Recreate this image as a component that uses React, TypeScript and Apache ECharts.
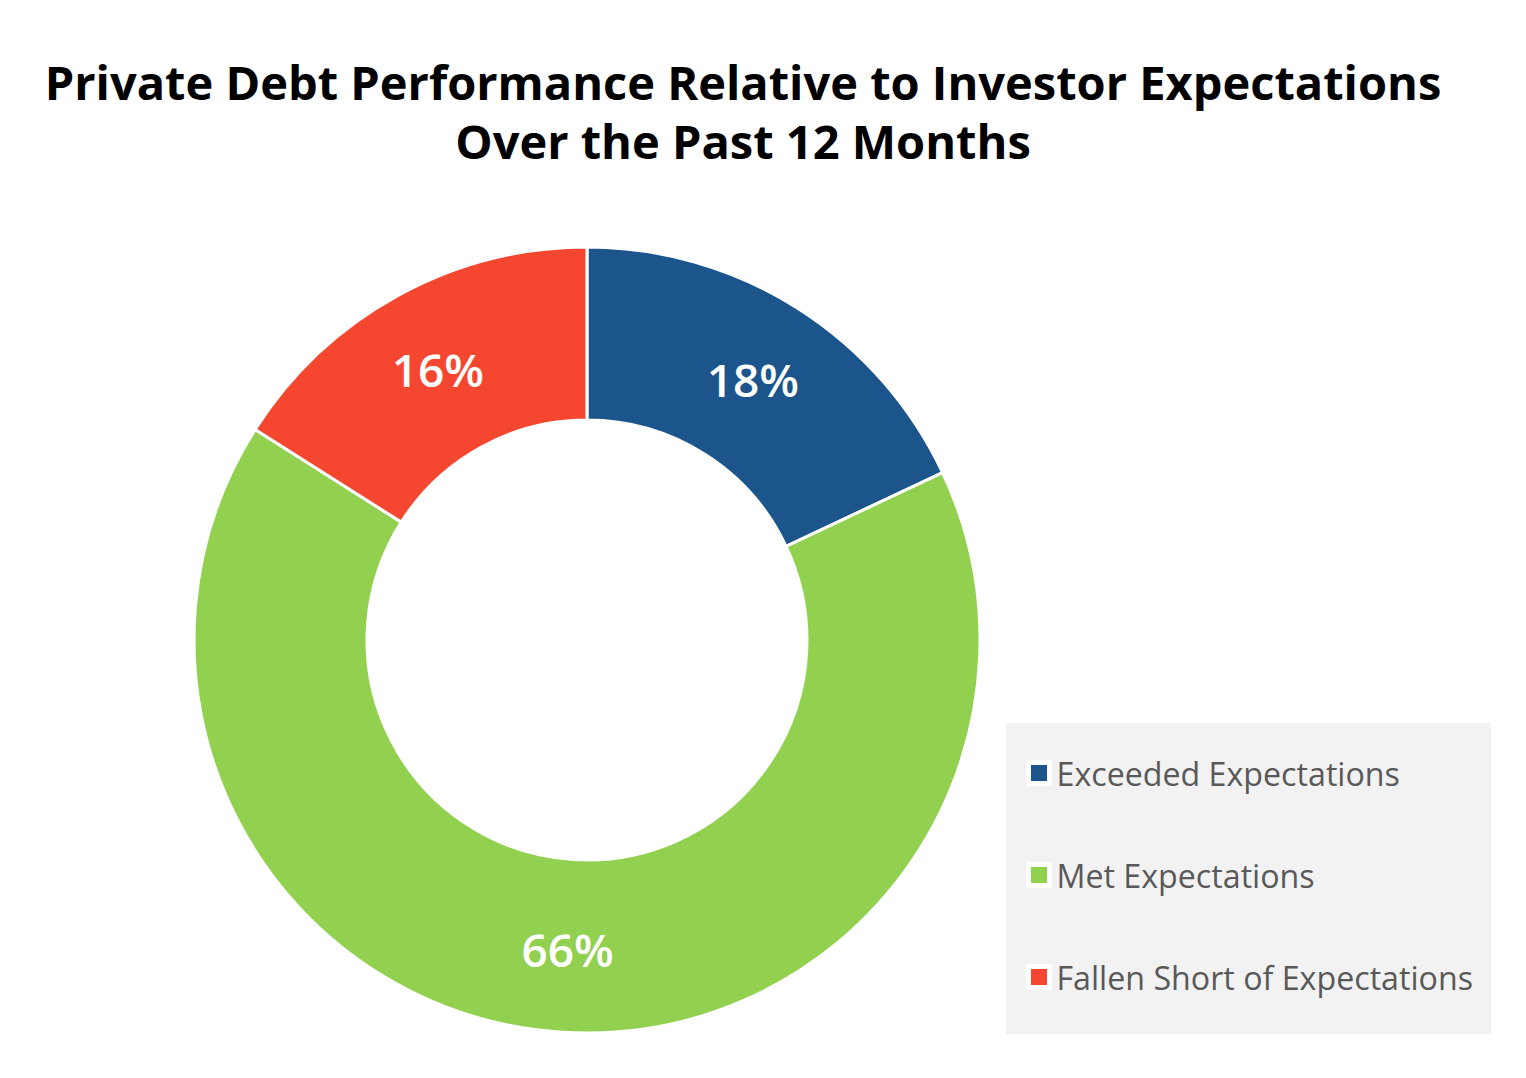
import React, { useEffect, useRef } from "react";
import * as echarts from "echarts";

const titleLines = [
  "Private Debt Performance Relative to Investor Expectations",
  "Over the Past 12 Months",
];
const categories = ["Exceeded Expectations", "Met Expectations", "Fallen Short of Expectations"];
const values = [18, 66, 16];
const colors = ["#1B558C", "#92D050", "#F5472F"];

export default function App() {
  const ref = useRef<HTMLDivElement>(null);
  useEffect(() => {
    if (!ref.current) return;
    const chart = echarts.init(ref.current, undefined, { renderer: "svg" });
    chart.setOption({
      animation: false,
      backgroundColor: "#ffffff",
      title: {
        text: titleLines.join("\n"),
        left: 738,
        top: 47,
        textAlign: "center",
        textStyle: {
          fontFamily: "Open Sans",
          fontWeight: "bold",
          fontSize: 47,
          lineHeight: 59,
          color: "#000000",
        },
      },
      graphic: [
        {
          type: "rect",
          shape: { x: 1006, y: 723, width: 485, height: 311 },
          style: { fill: "#F2F2F2" },
          z: 0,
        },
      ],
      legend: {
        orient: "vertical",
        left: 1026,
        top: 757,
        padding: 0,
        itemGap: 70,
        itemWidth: 21,
        itemHeight: 21,
        icon: "rect",
        data: categories,
        itemStyle: { borderColor: "#ffffff", borderWidth: 5 },
        textStyle: { fontFamily: "Open Sans", fontSize: 32.2, color: "#595959", padding: [0, 0, 0, 2] },
        z: 5,
      },
      series: [
        {
          type: "pie",
          center: [587, 640],
          radius: [220, 393],
          startAngle: 90,
          clockwise: true,
          avoidLabelOverlap: false,
          data: categories.map((c, i) => ({ name: c, value: values[i], itemStyle: { color: colors[i] } })),
          itemStyle: { borderColor: "#ffffff", borderWidth: 3 },
          label: {
            show: true,
            position: "inside",
            formatter: (p: any) => p.value + "%",
            color: "#ffffff",
            fontFamily: "Open Sans",
            fontWeight: 600,
            fontSize: 46,
          },
          labelLine: { show: false },
          emphasis: { disabled: true },
        },
      ],
    });
    return () => chart.dispose();
  }, []);
  return (
    <div
      ref={ref}
      style={{ position: "fixed", left: 0, top: 0, width: 1526, height: 1078 }}
    />
  );
}
